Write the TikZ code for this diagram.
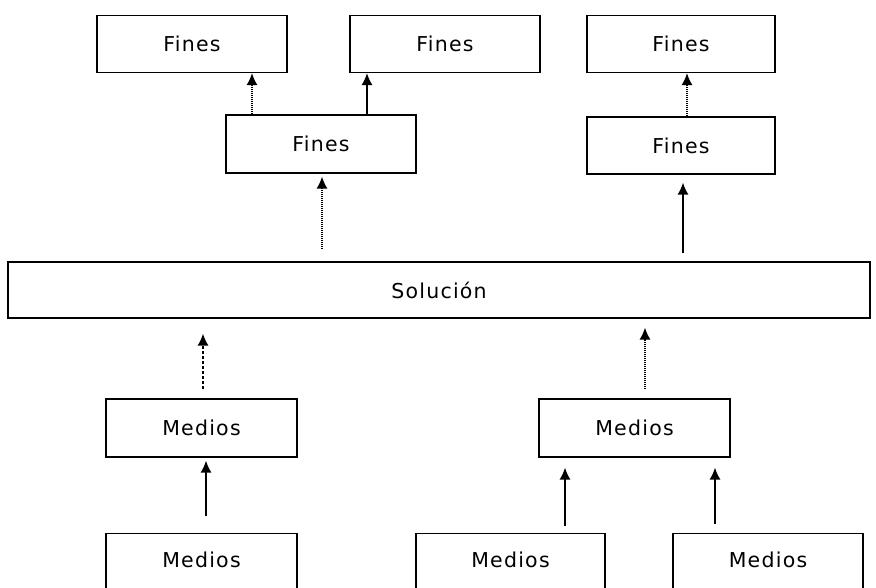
\documentclass[tikz,border=0pt]{standalone}
\usepackage{fontspec}
\setmainfont{DejaVu Sans}[LetterSpace=6]
\usetikzlibrary{arrows.meta}
\tikzset{
  box/.style={draw=black, line width=1.1pt, fill=white, inner sep=0pt, font=\fontsize{20.5}{23}\selectfont},
  arr/.style={line width=1.6pt, -{Latex[length=12pt,width=11pt]}},
  dotarr/.style={arr, dash pattern=on 1pt off 1pt},
  dasharr/.style={arr, dash pattern=on 3pt off 2pt},
}
\begin{document}
\begin{tikzpicture}[x=1pt,y=-1pt]
\useasboundingbox (0,0) rectangle (876,587);
\clip (0,0) rectangle (876,587);
% top row
\node[box, minimum width=190pt, minimum height=57pt] (f1) at (192,44) {Fines};
\node[box, minimum width=190pt, minimum height=57pt] (f2) at (445,44) {Fines};
\node[box, minimum width=188pt, minimum height=57pt] (f3) at (681,44) {Fines};
% middle fines
\node[box, minimum width=190pt, minimum height=58pt] (fm1) at (321,144) {Fines};
\node[box, minimum width=188pt, minimum height=57pt] (fm2) at (681,145.5) {Fines};
% solution
\node[box, minimum width=862pt, minimum height=56pt] (sol) at (439,290) {Solución};
% medios
\node[box, minimum width=191pt, minimum height=58pt] (mm1) at (201.5,428) {Medios};
\node[box, minimum width=191pt, minimum height=58pt] (mm2) at (634.5,428) {Medios};
\node[box, minimum width=191pt, minimum height=70pt, anchor=north, text depth=18pt] (mb1) at (201.5,533) {Medios};
\node[box, minimum width=189pt, minimum height=70pt, anchor=north, text depth=18pt] (mb2) at (510.5,533) {Medios};
\node[box, minimum width=190pt, minimum height=70pt, anchor=north, text depth=18pt] (mb3) at (768,533) {Medios};
% x positions
\coordinate (x1) at (252,0);
\coordinate (x2) at (367,0);
\coordinate (x3) at (687,0);
\coordinate (x4) at (322,0);
\coordinate (x5) at (683,0);
\coordinate (x6) at (203,0);
\coordinate (x7) at (645,0);
\coordinate (x8) at (206,0);
\coordinate (x9) at (565,0);
\coordinate (x10) at (715,0);
% connectors
\draw[dotarr] (fm1.north -| x1) -- (f1.south -| x1);
\draw[arr] (fm1.north -| x2) -- (f2.south -| x2);
\draw[dotarr] (fm2.north -| x3) -- (f3.south -| x3);
\draw[dotarr, shorten <=12pt, shorten >=3pt] (sol.north -| x4) -- (fm1.south -| x4);
\draw[arr, shorten <=8pt, shorten >=8pt] (sol.north -| x5) -- (fm2.south -| x5);
\draw[dasharr, shorten <=9pt, shorten >=15pt] (mm1.north -| x6) -- (sol.south -| x6);
\draw[dotarr, shorten <=9pt, shorten >=9pt] (mm2.north -| x7) -- (sol.south -| x7);
\draw[arr, shorten <=17pt, shorten >=3pt] (mb1.north -| x8) -- (mm1.south -| x8);
\draw[arr, shorten <=7pt, shorten >=10pt] (mb2.north -| x9) -- (mm2.south -| x9);
\draw[arr, shorten <=9pt, shorten >=10pt] (mb3.north -| x10) -- (mm2.south -| x10);
\end{tikzpicture}
\end{document}
